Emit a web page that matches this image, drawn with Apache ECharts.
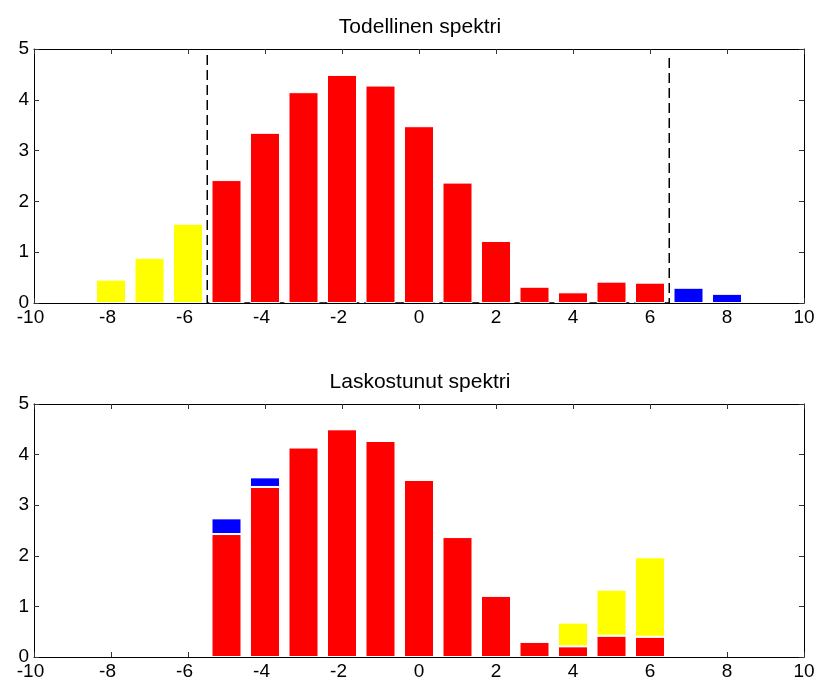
<!DOCTYPE html>
<html>
<head>
<meta charset="utf-8">
<script src="https://cdn.jsdelivr.net/npm/echarts@6/dist/echarts.min.js"></script>
<style>
  html, body { margin: 0; padding: 0; background: #fff; }
  #chart { width: 819px; height: 687px; }
</style>
</head>
<body>
<div id="chart"></div>
<script>
// true spectrum, bars at -8 .. 8
const freqs = [-8, -7, -6, -5, -4, -3, -2, -1, 0, 1, 2, 3, 4, 5, 6, 7, 8];
const spectrum = [0.46, 0.89, 1.56, 2.42, 3.35, 4.15, 4.49, 4.28, 3.48, 2.37, 1.22, 0.32, 0.21, 0.42, 0.40, 0.30, 0.18];

// band edges (dashed lines)
const foldLow = -5.5;
const foldHigh = 6.5;
const dashTop = 4.88;

// folded spectrum, bars at -5 .. 6
const foldFreqs = [-5, -4, -3, -2, -1, 0, 1, 2, 3, 4, 5, 6];
const foldRed = [2.43, 3.36, 4.14, 4.50, 4.27, 3.50, 2.37, 1.21, 0.30, 0.21, 0.42, 0.40];
const foldBlue = [0.31, 0.19, 0, 0, 0, 0, 0, 0, 0, 0, 0, 0];
const foldYellow = [0, 0, 0, 0, 0, 0, 0, 0, 0, 0.47, 0.91, 1.57];

const xTicks = { min: -10, max: 10, interval: 2 };
const yTicks = { min: 0, max: 5, interval: 1 };

const FONT = 'Liberation Sans';
const RED = '#ff0000', YELLOW = '#ffff00', BLUE = '#0000ff';

const chart = echarts.init(document.getElementById('chart'));

function xAxes(gridIndex) {
  const base = {
    type: 'value', gridIndex: gridIndex,
    min: xTicks.min, max: xTicks.max, interval: xTicks.interval,
    splitLine: {show: false},
    axisLine: {show: true, onZero: false, lineStyle: {color: '#000', width: 1}},
    axisTick: {show: true, inside: true, length: 5, lineStyle: {color: '#333'}}
  };
  return [
    Object.assign({}, base, {
      position: 'bottom',
      axisLabel: {
        color: '#000', fontFamily: FONT, fontSize: 19, margin: 5,
        // matlab puts negative labels a bit left of the tick
        formatter: v => v < 0 ? '{n|' + v + '}' : String(v),
        rich: {n: {fontFamily: FONT, fontSize: 19, color: '#000', padding: [0, 7, 0, 0]}}
      }
    }),
    Object.assign({}, base, {position: 'top', axisLabel: {show: false}})
  ];
}

function yAxes(gridIndex) {
  const base = {
    type: 'value', gridIndex: gridIndex,
    min: yTicks.min, max: yTicks.max, interval: yTicks.interval,
    splitLine: {show: false},
    axisLine: {show: true, onZero: false, lineStyle: {color: '#000', width: 1}},
    axisTick: {show: true, inside: true, length: 5, lineStyle: {color: '#333'}}
  };
  return [
    Object.assign({}, base, {
      position: 'left',
      axisLabel: {color: '#000', fontFamily: FONT, fontSize: 19, margin: 5}
    }),
    Object.assign({}, base, {position: 'right', axisLabel: {show: false}})
  ];
}

const barStyle = {borderColor: '#fff', borderWidth: 1};

// value first so that stacking happens on y (stack on value axes goes by index)
function stackData(vals) {
  return foldFreqs.map((f, i) => [vals[i], f]);
}

chart.setOption({
  animation: false,
  backgroundColor: '#fff',
  title: [
    {text: 'Todellinen spektri', left: 415, top: 12, textAlign: 'center',
     textStyle: {fontFamily: FONT, fontSize: 21, fontWeight: 'normal', color: '#000'}},
    {text: 'Laskostunut spektri', left: 415, top: 367, textAlign: 'center',
     textStyle: {fontFamily: FONT, fontSize: 21, fontWeight: 'normal', color: '#000'}}
  ],
  grid: [
    {left: 34, right: 15, top: 49, height: 254},
    {left: 34, right: 15, top: 404, height: 253}
  ],
  xAxis: xAxes(0).concat(xAxes(1)),
  yAxis: yAxes(0).concat(yAxes(1)),
  series: [
    {
      type: 'line', xAxisIndex: 0, yAxisIndex: 0, symbol: 'none', z: 1,
      data: [[foldLow, dashTop], [foldLow, 0], [foldHigh, 0], [foldHigh, dashTop]],
      lineStyle: {color: '#000', width: 1.5, type: [10, 5]}
    },
    {
      type: 'bar', xAxisIndex: 0, yAxisIndex: 0, barWidth: 30, z: 2,
      data: freqs.map((f, i) => [f, spectrum[i]]),
      itemStyle: Object.assign({}, barStyle, {
        color: p => p.value[0] < foldLow ? YELLOW : (p.value[0] > foldHigh ? BLUE : RED)
      })
    },
    {
      type: 'bar', xAxisIndex: 2, yAxisIndex: 2, barWidth: 30, stack: 'fold',
      encode: {x: 1, y: 0},
      data: stackData(foldRed),
      itemStyle: Object.assign({color: RED}, barStyle)
    },
    {
      type: 'bar', xAxisIndex: 2, yAxisIndex: 2, barWidth: 30, stack: 'fold',
      encode: {x: 1, y: 0},
      data: stackData(foldBlue),
      itemStyle: Object.assign({color: BLUE}, barStyle)
    },
    {
      type: 'bar', xAxisIndex: 2, yAxisIndex: 2, barWidth: 30, stack: 'fold',
      encode: {x: 1, y: 0},
      data: stackData(foldYellow),
      itemStyle: Object.assign({color: YELLOW}, barStyle)
    }
  ]
});
</script>
</body>
</html>
